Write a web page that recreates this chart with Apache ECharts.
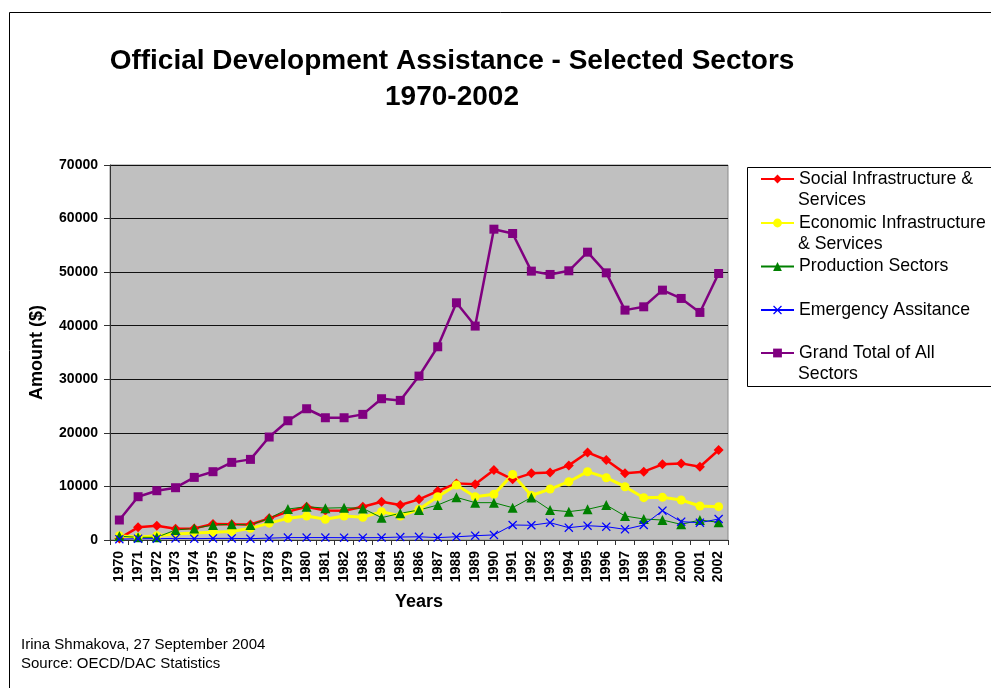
<!DOCTYPE html>
<html>
<head>
<meta charset="utf-8">
<title>Official Development Assistance - Selected Sectors</title>
<script src="https://cdn.jsdelivr.net/npm/echarts@6/dist/echarts.min.js"></script>
<style>
  html, body { margin: 0; padding: 0; background: #fff; }
  #chart { width: 991px; height: 688px; }
</style>
</head>
<body>
<div id="chart"></div>
<script>
// ODA commitments by sector, 1970-2002 (US$ millions)
const years = ['1970','1971','1972','1973','1974','1975','1976','1977','1978','1979','1980',
  '1981','1982','1983','1984','1985','1986','1987','1988','1989','1990',
  '1991','1992','1993','1994','1995','1996','1997','1998','1999','2000','2001','2002'];

const socialInfra = [300, 2370, 2670, 2100, 2170, 3000, 2920, 2900, 4040, 5290, 6220,
  5500, 5470, 6220, 7150, 6530, 7590, 9140, 10570, 10390, 13060,
  11320, 12440, 12620, 13930, 16350, 14930, 12440, 12750, 14120, 14300, 13680, 16790];

const economicInfra = [800, 500, 800, 1100, 1300, 1450, 1600, 2180, 3150, 4040, 4480,
  3860, 4480, 4230, 5290, 4480, 5720, 8080, 10260, 8080, 8520,
  12250, 8300, 9510, 10880, 12750, 11630, 9950, 7900, 7960, 7460, 6340, 6220];

const production = [700, 500, 500, 1870, 2170, 2800, 2920, 2800, 4040, 5780, 6220,
  5950, 6030, 5900, 4170, 4980, 5600, 6530, 7960, 6970, 6970,
  6030, 7930, 5600, 5290, 5720, 6530, 4480, 3920, 3730, 2920, 3730, 3300];

const emergency = [150, 250, 250, 300, 250, 300, 300, 250, 350, 450, 450,
  450, 430, 430, 450, 550, 600, 450, 600, 800, 950,
  2800, 2750, 3230, 2300, 2670, 2490, 1990, 2800, 5470, 3420, 3230, 3920];

const grandTotal = [3730, 8080, 9200, 9760, 11690, 12750, 14490, 15050, 19220, 22260, 24500,
  22820, 22820, 23450, 26370, 26060, 30600, 36070, 44280, 39930, 58020,
  57210, 50190, 49570, 50250, 53730, 49870, 42910, 43530, 46640, 45090, 42480, 49750];

const yTicks = { min: 0, max: 70000, interval: 10000 };

const seriesNames = [
  'Social Infrastructure & Services',
  'Economic Infrastructure & Services',
  'Production Sectors',
  'Emergency Assitance',
  'Grand Total of All Sectors'
];
// legend text is wrapped: first line beside the key, remainder below it
const legendFirstLines = ['Social Infrastructure &', 'Economic Infrastructure', 'Production Sectors', 'Emergency Assitance', 'Grand Total of All'];
const legendSecondLines = ['Services', '& Services', '', '', 'Sectors'];

const FONT = '"Liberation Sans", Arial, Helvetica, sans-serif';
const crossSymbol = 'path://M0,1 L1,0 L5,4 L9,0 L10,1 L6,5 L10,9 L9,10 L5,6 L1,10 L0,9 L4,5 Z';

const chart = echarts.init(document.getElementById('chart'), null, { renderer: 'canvas' });

const legendCenters = [179, 223, 266.5, 310, 353];
const legends = seriesNames.map((name, i) => ({
  data: [name],
  orient: 'vertical',
  left: 760,
  top: legendCenters[i] - 10,
  padding: 0,
  itemWidth: 33,
  itemHeight: 11,
  formatter: () => legendFirstLines[i],
  textStyle: { fontFamily: FONT, fontSize: 17.7, lineHeight: 20, color: '#000' }
}));

const legendExtra = legendSecondLines.map((t, i) => t ? {
  type: 'text',
  left: 798,
  top: legendCenters[i] + 21 - 10,
  style: { text: t, font: '17.7px ' + FONT, fill: '#000', lineHeight: 20 }
} : null).filter(Boolean);

const option = {
  animation: false,
  backgroundColor: '#ffffff',
  title: {
    text: 'Official Development Assistance - Selected Sectors\n1970-2002',
    left: 452,
    top: 43,
    padding: 0,
    textAlign: 'center',
    textStyle: { fontFamily: FONT, fontSize: 28, fontWeight: 'bold', lineHeight: 36, color: '#000' }
  },
  legend: legends,
  grid: {
    left: 110, right: 263, top: 165, bottom: 148,
    show: true, backgroundColor: '#c0c0c0', borderColor: '#8a8a8a', borderWidth: 1
  },
  xAxis: {
    type: 'category',
    data: years,
    boundaryGap: true,
    name: 'Years',
    nameLocation: 'middle',
    nameGap: 53,
    nameTextStyle: { fontFamily: FONT, fontSize: 18, fontWeight: 'bold', color: '#000' },
    axisLine: { lineStyle: { color: '#333', width: 1 } },
    axisTick: { show: true, interval: 0, length: 5, lineStyle: { color: '#333' } },
    axisLabel: {
      interval: 0, rotate: 90, margin: 11,
      fontFamily: FONT, fontSize: 14, fontWeight: 'bold', color: '#000'
    },
    splitLine: { show: false }
  },
  yAxis: {
    type: 'value',
    min: yTicks.min, max: yTicks.max, interval: yTicks.interval,
    name: 'Amount ($)',
    nameLocation: 'middle',
    nameGap: 64,
    nameTextStyle: { fontFamily: FONT, fontSize: 18, fontWeight: 'bold', color: '#000' },
    axisLine: { show: true, lineStyle: { color: '#333', width: 1 } },
    axisTick: { show: true, length: 6, lineStyle: { color: '#333' } },
    axisLabel: {
      margin: 12, fontFamily: FONT, fontSize: 14, fontWeight: 'bold', color: '#000',
      formatter: (v) => String(v)
    },
    splitLine: { show: true, lineStyle: { color: '#111', width: 1 } }
  },
  series: [
    {
      name: seriesNames[0], type: 'line', data: socialInfra,
      symbol: 'diamond', symbolSize: 10,
      lineStyle: { color: '#ff0000', width: 2.5 },
      itemStyle: { color: '#ff0000' }
    },
    {
      name: seriesNames[1], type: 'line', data: economicInfra,
      symbol: 'circle', symbolSize: 9,
      lineStyle: { color: '#ffff00', width: 3 },
      itemStyle: { color: '#ffff00' }
    },
    {
      name: seriesNames[2], type: 'line', data: production,
      symbol: 'triangle', symbolSize: 10,
      lineStyle: { color: '#008000', width: 1 },
      itemStyle: { color: '#008000' }
    },
    {
      name: seriesNames[3], type: 'line', data: emergency,
      symbol: crossSymbol, symbolSize: 9,
      lineStyle: { color: '#0000ff', width: 1 },
      itemStyle: { color: '#0000ff' }
    },
    {
      name: seriesNames[4], type: 'line', data: grandTotal,
      symbol: 'rect', symbolSize: 9,
      lineStyle: { color: '#800080', width: 2.5 },
      itemStyle: { color: '#800080' }
    }
  ],
  graphic: [
    {
      type: 'rect', silent: true, z: -1,
      shape: { x: 9.5, y: 12.5, width: 1000, height: 700 },
      style: { fill: 'none', stroke: '#000', lineWidth: 1 }
    },
    {
      type: 'rect', silent: true,
      shape: { x: 747.5, y: 167.5, width: 300, height: 219 },
      style: { fill: 'none', stroke: '#000', lineWidth: 1 }
    },
    ...legendExtra,
    {
      type: 'text', left: 21, top: 637,
      style: { text: 'Irina Shmakova, 27 September 2004', font: '15px ' + FONT, fill: '#000' }
    },
    {
      type: 'text', left: 21, top: 656,
      style: { text: 'Source: OECD/DAC Statistics', font: '15px ' + FONT, fill: '#000' }
    }
  ]
};

chart.setOption(option);
</script>
</body>
</html>
